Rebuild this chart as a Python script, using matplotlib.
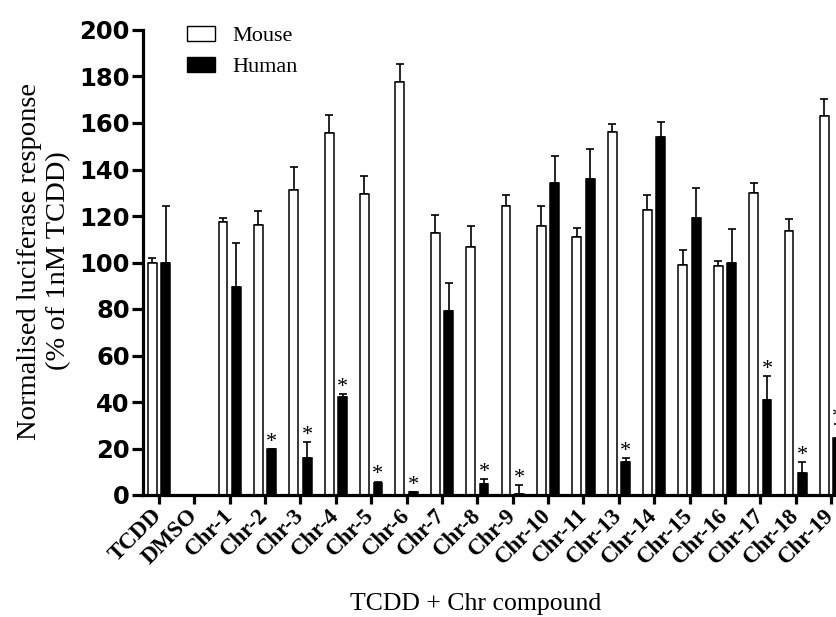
import matplotlib
matplotlib.use("Agg")
import matplotlib.pyplot as plt
from matplotlib.patches import Patch
import numpy as np

categories = ["TCDD", "DMSO", "Chr-1", "Chr-2", "Chr-3", "Chr-4", "Chr-5", "Chr-6",
              "Chr-7", "Chr-8", "Chr-9", "Chr-10", "Chr-11", "Chr-13", "Chr-14",
              "Chr-15", "Chr-16", "Chr-17", "Chr-18", "Chr-19"]
mouse = [100, 0, 117.5, 116, 131, 155.5, 129.5, 177.5, 112.5, 106.5, 124.5,
         115.5, 111, 156, 122.5, 99, 98.5, 130, 113.5, 163]
mouse_err = [2, 0, 1.5, 6, 10, 8, 7.5, 8, 8, 9, 4.5, 9, 4, 3.5, 6.5, 6.3, 2.2, 4, 5.3, 7.5]
human = [100, 0, 89.5, 19.6, 15.8, 42.3, 5.3, 1.2, 79, 4.7, 0.3,
         134, 136, 14, 154, 119, 100, 41, 9.6, 24.5]
human_err = [24.5, 0, 19, 0, 7, 1, 0.5, 0, 12, 2, 4, 12, 13, 2, 6.5, 13, 14.5, 10, 4.7, 6]
significant = [False, False, False, True, True, True, True, True, False, True, True,
               False, False, True, False, False, False, True, True, True]

W, H = 836, 617
fig = plt.figure(figsize=(W / 100, H / 100), dpi=100)
ax = fig.add_axes([143 / W, 1 - 495 / H, 1 - 143 / W, 465 / H])

x = np.arange(len(categories))
bw = 0.25
off = 0.19

ax.errorbar(x - off, mouse, yerr=[np.zeros(len(x)), mouse_err], fmt="none",
            ecolor="black", elinewidth=1.2, capsize=3, capthick=1.2, zorder=1)
ax.errorbar(x + off, human, yerr=[np.zeros(len(x)), human_err], fmt="none",
            ecolor="black", elinewidth=1.2, capsize=3, capthick=1.2, zorder=1)
ax.bar(x - off, mouse, width=bw, color="white", edgecolor="black", linewidth=1.1, zorder=2)
ax.bar(x + off, human, width=bw, color="black", edgecolor="black", linewidth=1.1, zorder=2)

for i, s in enumerate(significant):
    if s:
        ax.annotate("*", (x[i] + off, human[i] + human_err[i]), xytext=(0, 1.5),
                    textcoords="offset points", ha="center", va="baseline",
                    fontsize=16, family="Liberation Serif", annotation_clip=False)

ax.set_xlim(-0.452, 19.14)
ax.set_ylim(0, 200)
ax.set_yticks(np.arange(0, 201, 20))
ax.set_xticks(x)
ax.set_xticklabels(categories, rotation=45, ha="right", va="center",
                   rotation_mode="anchor", fontsize=16.5, fontweight="bold",
                   family="Liberation Serif")
for lab in ax.get_yticklabels():
    lab.set_fontfamily("DejaVu Sans")
    lab.set_fontweight("bold")
    lab.set_fontsize(17.5)

for sp in ["top", "right"]:
    ax.spines[sp].set_visible(False)
for sp in ["left", "bottom"]:
    ax.spines[sp].set_linewidth(2.3)
ax.tick_params(axis="y", length=8, width=2.3, pad=1.5)
ax.tick_params(axis="x", length=6.5, width=2.3, pad=6)

fig.text(44 / W, 1 - 261 / H, "Normalised luciferase response\n(% of 1nM TCDD)",
         rotation=90, ha="center", va="center", multialignment="center",
         fontsize=20.5, family="Liberation Serif", linespacing=1.2)
fig.text(476 / W, 1 - 610 / H, "TCDD + Chr compound", ha="center", va="baseline",
         fontsize=18.5, family="Liberation Serif")

handles = [Patch(facecolor="white", edgecolor="black", linewidth=1.0, label="Mouse"),
           Patch(facecolor="black", edgecolor="black", linewidth=1.0, label="Human")]
leg = ax.legend(handles=handles, loc="upper left",
                bbox_to_anchor=(187 / W, 1 - 26 / H), bbox_transform=fig.transFigure,
                frameon=False, borderpad=0, borderaxespad=0, handlelength=1.26,
                handleheight=0.63, handletextpad=0.77, labelspacing=0.49,
                prop={"family": "Liberation Serif", "size": 16})

fig.savefig("out.png", dpi=100)
